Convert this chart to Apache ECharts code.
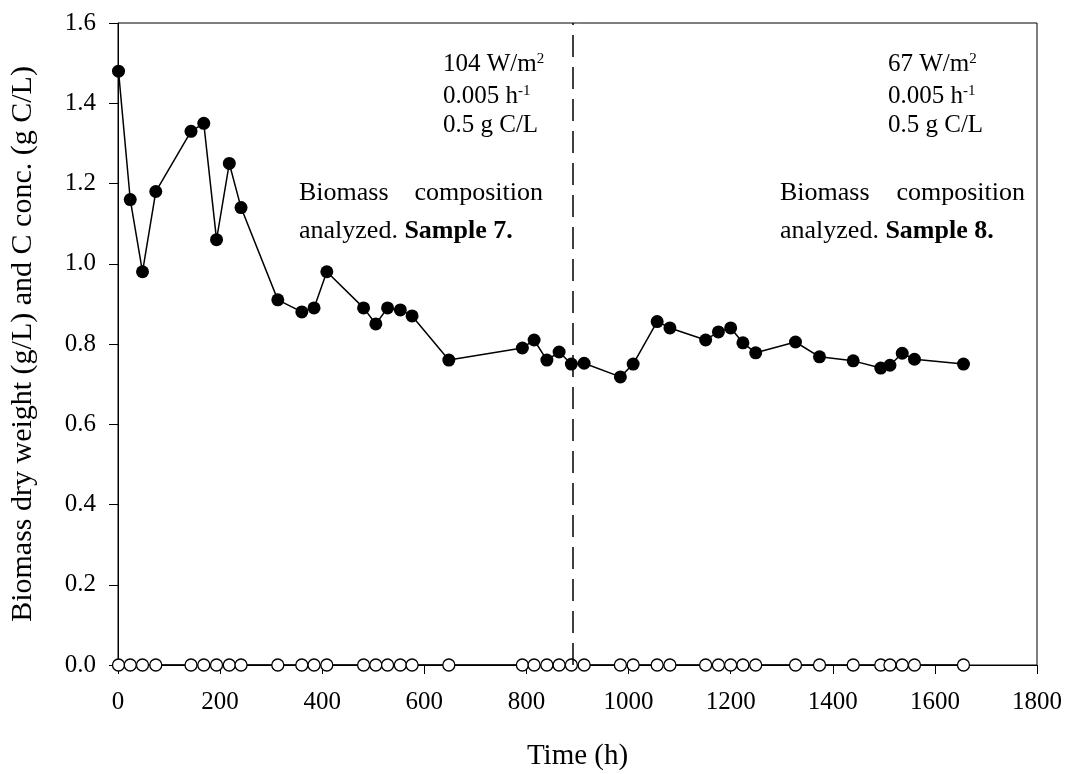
<!DOCTYPE html>
<html>
<head>
<meta charset="utf-8">
<script src="https://cdn.jsdelivr.net/npm/echarts@6/dist/echarts.min.js"></script>
<style>
  html, body { margin: 0; padding: 0; background: #fff; }
  #chart { width: 1067px; height: 774px; }
</style>
</head>
<body>
<div id="chart"></div>
<script>
// sampling times (h)
const time = [1, 24, 48, 74, 143, 168, 193, 218, 241, 313, 360, 384, 409, 481, 505, 528, 553, 576, 648,
  792, 815, 840, 864, 888, 913, 984, 1009, 1056, 1081, 1151, 1176, 1200, 1224, 1249, 1327, 1374, 1440,
  1494, 1512, 1536, 1560, 1656];
// biomass dry weight (g/L)
const biomass = [1.48, 1.16, 0.98, 1.18, 1.33, 1.35, 1.06, 1.25, 1.14, 0.91, 0.88, 0.89, 0.98, 0.89, 0.85,
  0.89, 0.885, 0.87, 0.76, 0.79, 0.81, 0.76, 0.78, 0.75, 0.752, 0.718, 0.75, 0.856, 0.84, 0.81, 0.83, 0.84,
  0.803, 0.778, 0.805, 0.768, 0.758, 0.74, 0.747, 0.777, 0.762, 0.75];
// C concentration (g C/L)
const carbon = [0, 0, 0, 0, 0, 0, 0, 0, 0, 0, 0, 0, 0, 0, 0, 0, 0, 0, 0, 0, 0, 0, 0, 0, 0, 0, 0, 0, 0, 0,
  0, 0, 0, 0, 0, 0, 0, 0, 0, 0, 0, 0];
// change of light intensity (h)
const switchTime = [890];

const serif = "Liberation Serif";
let chart = echarts.init(document.getElementById("chart"));

const rich = {
  n: { fontFamily: serif, fontSize: 25, color: "#000" },
  sup: { fontFamily: serif, fontSize: 15, color: "#000", verticalAlign: "top", padding: [0, 0, 10, 0] },
  m: { fontFamily: serif, fontSize: 26, color: "#000" },
  b: { fontFamily: serif, fontSize: 26, color: "#000", fontWeight: "bold" }
};

function txt(left, top, text, align) {
  return {
    type: "text",
    left: align === "right" ? null : left,
    right: align === "right" ? 1067 - left : null,
    top: top,
    style: { text: text, rich: rich, font: "25px " + serif, fill: "#000" }
  };
}

let option = {
  animation: false,
  grid: {
    left: 118, right: 30, top: 23, bottom: 109,
    outerBoundsMode: "none",
    show: true, borderColor: "#000", borderWidth: 1
  },
  xAxis: {
    type: "value", min: 0, max: 1800, interval: 200,
    name: "Time (h)", nameLocation: "middle", nameGap: 77,
    nameTextStyle: { fontFamily: serif, fontSize: 29, color: "#000" },
    axisLine: { show: true, onZero: false, lineStyle: { color: "#000", width: 1 } },
    axisTick: { show: true, inside: false, length: 9, lineStyle: { color: "#000" } },
    axisLabel: { fontFamily: serif, fontSize: 25, color: "#000", margin: 25, formatter: (v) => String(v) },
    splitLine: { show: false }
  },
  yAxis: {
    type: "value", min: 0, max: 1.6, interval: 0.2,
    name: "Biomass dry weight (g/L) and C conc. (g C/L)", nameLocation: "middle", nameGap: 80,
    nameTextStyle: { fontFamily: serif, fontSize: 30, color: "#000" },
    axisLine: { show: true, lineStyle: { color: "#000", width: 1 } },
    axisTick: { show: true, inside: false, length: 9, lineStyle: { color: "#000" } },
    axisLabel: { fontFamily: serif, fontSize: 25, color: "#000", margin: 22, formatter: (v) => v.toFixed(1) },
    splitLine: { show: false }
  },
  series: [
    {
      name: "Biomass",
      type: "line",
      data: time.map((t, i) => [t, biomass[i]]),
      symbol: "circle", symbolSize: 13,
      itemStyle: { color: "#000" },
      lineStyle: { color: "#000", width: 1.5 },
      z: 3,
      markLine: {
        silent: true, symbol: "none", label: { show: false },
        lineStyle: { color: "#000", type: [22, 10], width: 1.5 },
        data: switchTime.map((t) => ({ xAxis: t }))
      }
    },
    {
      name: "Carbon",
      type: "line",
      data: time.map((t, i) => [t, carbon[i]]),
      symbol: "circle", symbolSize: 12, clip: false,
      itemStyle: { color: "#fff", borderColor: "#000", borderWidth: 1.3 },
      lineStyle: { color: "#000", width: 1.5 },
      z: 4
    }
  ],
  graphic: [
    txt(443, 52, "{n|104 W/m}{sup|2}"),
    txt(443, 84, "{n|0.005 h}{sup|-1}"),
    txt(443, 113, "{n|0.5 g C/L}"),
    txt(299, 180, "{m|Biomass}"),
    txt(543, 180, "{m|composition}", "right"),
    txt(299, 218, "{m|analyzed. }{b|Sample 7.}"),
    txt(888, 52, "{n|67 W/m}{sup|2}"),
    txt(888, 84, "{n|0.005 h}{sup|-1}"),
    txt(888, 113, "{n|0.5 g C/L}"),
    txt(780, 180, "{m|Biomass}"),
    txt(1025, 180, "{m|composition}", "right"),
    txt(780, 218, "{m|analyzed. }{b|Sample 8.}")
  ]
};
chart.setOption(option);
</script>
</body>
</html>
